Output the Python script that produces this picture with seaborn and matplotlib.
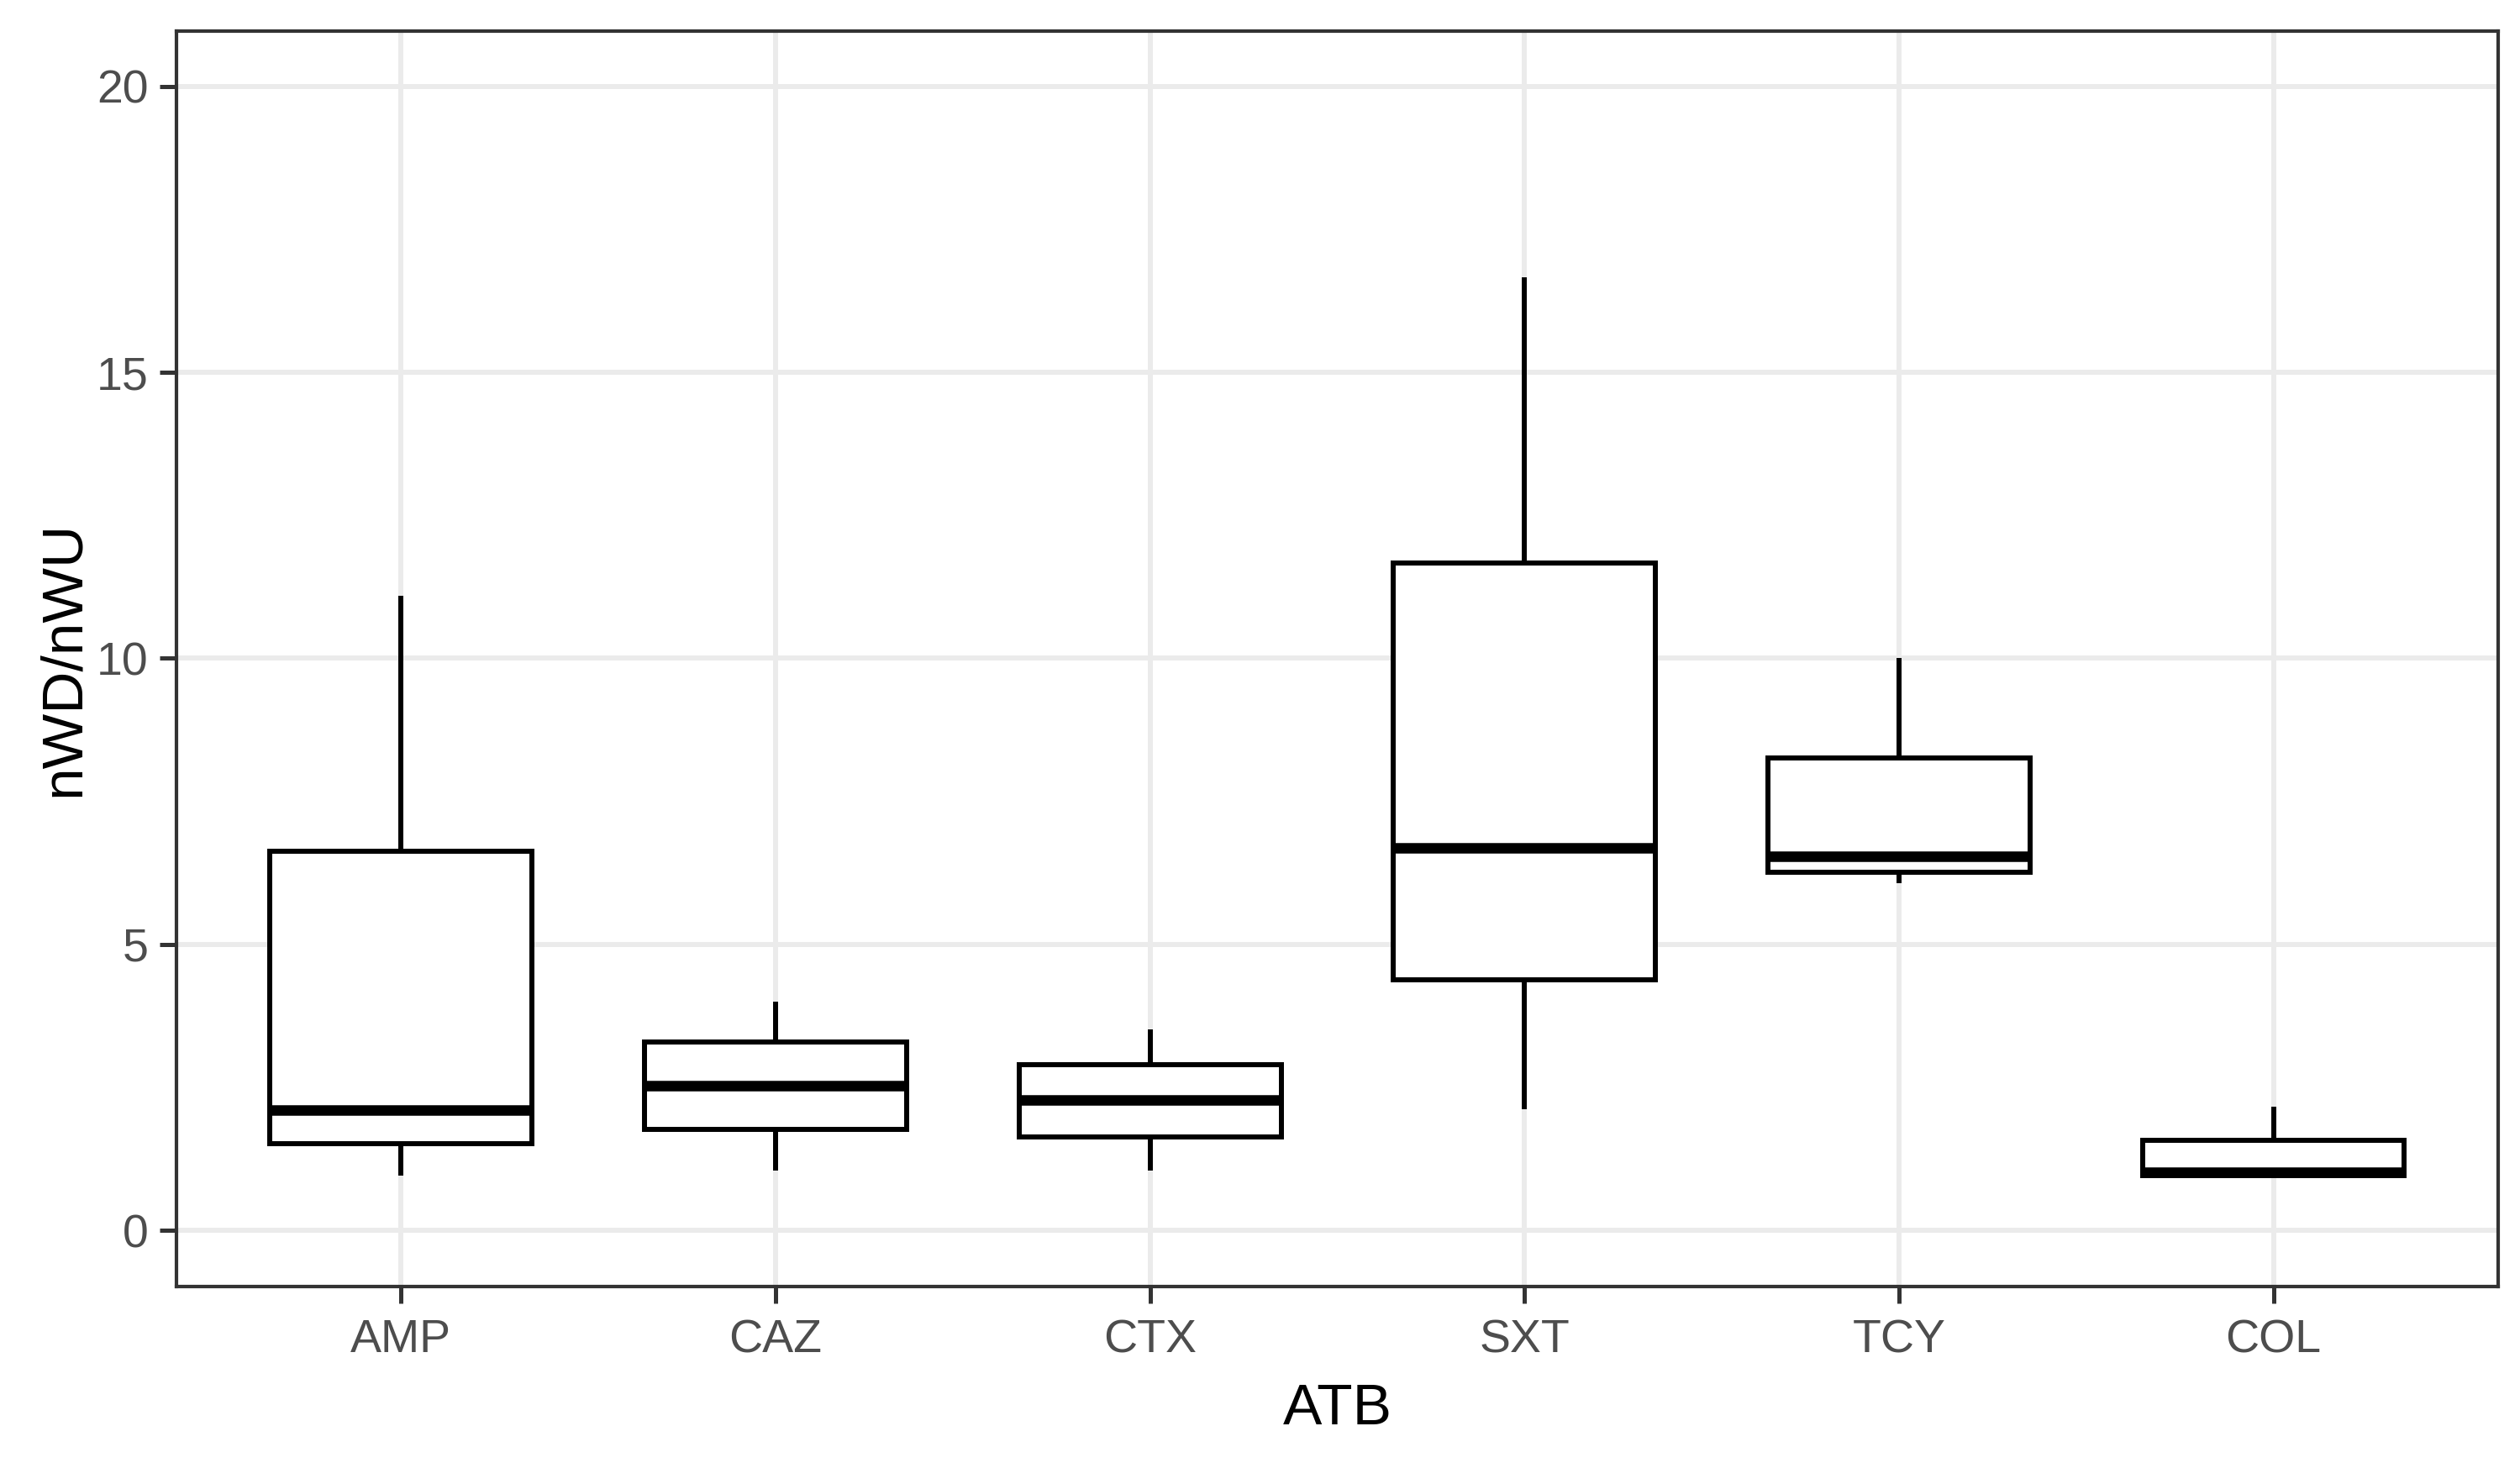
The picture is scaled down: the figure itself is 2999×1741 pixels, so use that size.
import numpy as np
import pandas as pd
import matplotlib
matplotlib.use("Agg")
import matplotlib.pyplot as plt
from matplotlib import font_manager
import seaborn as sns

# Data: five-number summaries (min, Q1, median, Q3, max)
categories = ["AMP", "CAZ", "CTX", "SXT", "TCY", "COL"]
amp = [0.95, 1.52, 2.10, 6.62, 11.10]
caz = [1.04, 1.77, 2.53, 3.29, 4.00]
ctx = [1.04, 1.63, 2.28, 2.89, 3.51]
sxt = [2.11, 4.38, 6.69, 11.66, 16.66]
tcy = [6.07, 6.26, 6.54, 8.26, 10.00]
col = [0.93, 0.96, 1.01, 1.57, 2.16]
y_ticks = [0, 5, 10, 15, 20]

series = {"AMP": amp, "CAZ": caz, "CTX": ctx, "SXT": sxt, "TCY": tcy, "COL": col}
rows = []
for k in categories:
    for v in series[k]:
        rows.append({"ATB": k, "val": v})
df = pd.DataFrame(rows)

sns.set_theme(style="white")
plt.rcParams["font.family"] = ["Liberation Sans", "DejaVu Sans"]

names = {f.name for f in font_manager.fontManager.ttflist}
if "Liberation Sans Narrow" in names:
    hfam = ["Liberation Sans Narrow", "Liberation Sans", "DejaVu Sans"]
    tick_size, xlab_size = 43, 53
else:
    hfam = ["Liberation Sans", "DejaVu Sans"]
    tick_size, xlab_size = 40, 50

fig = plt.figure(figsize=(29.99, 17.41), dpi=100)
ax = fig.add_axes([0.0700, 0.1206, 0.9213, 0.8581])

sns.boxplot(data=df, x="ATB", y="val", order=categories, whis=(0, 100),
            width=0.7, color="white", linecolor="black", linewidth=4.3,
            showcaps=False, showfliers=False,
            medianprops=dict(color="black", linewidth=9, solid_capstyle="butt"),
            boxprops=dict(facecolor="white", edgecolor="black"),
            ax=ax)

ax.set_axisbelow(True)
ax.grid(True, axis="both", color="#EBEBEB", linewidth=4.3)

ax.set_xlim(-0.6, 5.6)
ax.set_ylim(-0.984, 20.965)
ax.set_yticks(y_ticks)
ax.set_yticklabels([str(t) for t in y_ticks])

for s in ax.spines.values():
    s.set_color("#333333")
    s.set_linewidth(3.0)
    s.set_visible(True)

ax.tick_params(axis="both", which="major", direction="out", length=14.4, width=3.6,
               color="#333333", labelcolor="#4D4D4D", labelsize=tick_size)
ax.tick_params(axis="x", pad=13)
ax.tick_params(axis="y", pad=9.7)
ax.tick_params(left=True, bottom=True)
for lab in ax.get_xticklabels() + ax.get_yticklabels():
    lab.set_family(hfam)

ax.set_xlabel("ATB", fontsize=xlab_size, color="black", family=hfam)
ax.xaxis.set_label_coords(0.5, -0.0763)
ax.set_ylabel("nWD/nWU", fontsize=50, color="black")
ax.yaxis.set_label_coords(-0.0371, 0.5)

fig.savefig("out.png", dpi=100, facecolor="white")
